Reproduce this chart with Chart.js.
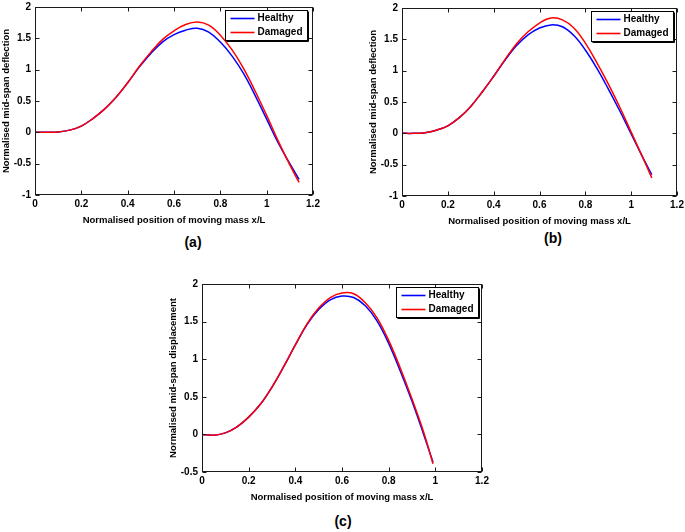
<!DOCTYPE html>
<html>
<head>
<meta charset="utf-8">
<script src="https://cdn.jsdelivr.net/npm/chart.js@4"></script>
<style>
  html, body { margin: 0; padding: 0; background: #fff; width: 685px; height: 532px; overflow: hidden; }
  canvas { position: absolute; }
  .tag { position: absolute; font: bold 14px "Liberation Sans", Arial, sans-serif; color: #000; transform: translate(-50%, -50%); }
</style>
</head>
<body>
<canvas id="chart-a"></canvas>
<canvas id="chart-b"></canvas>
<canvas id="chart-c"></canvas>
<div class="tag" style="left:193px; top:242px">(a)</div>
<div class="tag" style="left:553px; top:238px">(b)</div>
<div class="tag" style="left:343px; top:521px">(c)</div>
<script>
// values
const xA = [0, 0.05, 0.1, 0.15, 0.2, 0.25, 0.3, 0.35, 0.4, 0.45, 0.5, 0.55, 0.6, 0.65, 0.7, 0.75, 0.8, 0.85, 0.9, 0.95, 1.0, 1.05, 1.1, 1.14];
const healthyA = [0, 0, 0.005, 0.035, 0.10, 0.22, 0.37, 0.56, 0.79, 1.04, 1.26, 1.44, 1.56, 1.63, 1.66, 1.60, 1.44, 1.22, 0.94, 0.59, 0.21, -0.17, -0.50, -0.75];
const damagedA = [0, 0, 0.005, 0.035, 0.10, 0.22, 0.37, 0.56, 0.79, 1.05, 1.28, 1.48, 1.62, 1.72, 1.76, 1.71, 1.55, 1.32, 1.02, 0.66, 0.27, -0.14, -0.52, -0.80];

const xB = [0, 0.05, 0.1, 0.15, 0.2, 0.25, 0.3, 0.35, 0.4, 0.45, 0.5, 0.55, 0.6, 0.65, 0.7, 0.75, 0.8, 0.85, 0.9, 0.95, 1.0, 1.05, 1.09];
const healthyB = [0, 0, 0.01, 0.05, 0.12, 0.25, 0.43, 0.66, 0.91, 1.17, 1.40, 1.57, 1.68, 1.73, 1.70, 1.56, 1.33, 1.04, 0.71, 0.36, -0.01, -0.38, -0.66];
const damagedB = [0, 0, 0.01, 0.05, 0.12, 0.25, 0.43, 0.66, 0.91, 1.18, 1.43, 1.62, 1.76, 1.84, 1.81, 1.68, 1.44, 1.13, 0.79, 0.42, 0.02, -0.38, -0.71];

const xC = [0, 0.05, 0.1, 0.15, 0.2, 0.25, 0.3, 0.35, 0.4, 0.45, 0.5, 0.55, 0.6, 0.65, 0.7, 0.75, 0.8, 0.85, 0.9, 0.95, 0.99];
const healthyC = [0, -0.01, 0.02, 0.10, 0.23, 0.40, 0.63, 0.90, 1.19, 1.46, 1.66, 1.79, 1.84, 1.82, 1.71, 1.51, 1.21, 0.84, 0.44, 0.0, -0.37];
const damagedC = [0, -0.01, 0.02, 0.10, 0.23, 0.40, 0.63, 0.90, 1.19, 1.47, 1.68, 1.82, 1.88, 1.87, 1.75, 1.55, 1.25, 0.88, 0.47, 0.03, -0.39];

const xTicks = [0, 0.2, 0.4, 0.6, 0.8, 1, 1.2];
const yTicksAB = [-1, -0.5, 0, 0.5, 1, 1.5, 2];
const yTicksC = [-0.5, 0, 0.5, 1, 1.5, 2];

const seriesNames = ['Healthy', 'Damaged'];
const seriesColors = ['#0000ff', '#ff0000'];
const xTitle = 'Normalised position of moving mass x/L';

const FONT = '"Liberation Sans", Arial, sans-serif';
Chart.defaults.font.family = FONT;
Chart.defaults.color = '#000';

// matlab style box: frame, inward ticks, boxed legend
const matlabBox = {
    id: 'matlabBox',
    afterDraw(chart, args, opts) {
        const { ctx, chartArea: a, scales } = chart;
        const L = Math.round(a.left) + 0.5, R = Math.round(a.right) - 0.5;
        const T = Math.round(a.top) + 0.5, B = Math.round(a.bottom) - 0.5;
        ctx.save();
        ctx.strokeStyle = '#1a1a1a';
        ctx.lineWidth = 1;
        ctx.strokeRect(L, T, R - L, B - T);
        const tl = 4;
        ctx.beginPath();
        scales.x.ticks.forEach(t => {
            const px = Math.round(scales.x.getPixelForValue(t.value)) + 0.5;
            ctx.moveTo(px, B); ctx.lineTo(px, B - tl);
            ctx.moveTo(px, T); ctx.lineTo(px, T + tl);
        });
        scales.y.ticks.forEach(t => {
            const py = Math.round(scales.y.getPixelForValue(t.value)) + 0.5;
            ctx.moveTo(L, py); ctx.lineTo(L + tl, py);
            ctx.moveTo(R, py); ctx.lineTo(R - tl, py);
        });
        ctx.stroke();

        // legend
        ctx.font = 'bold 10px ' + FONT;
        const tw = Math.max(...chart.data.datasets.map(d => ctx.measureText(d.label).width));
        const w = 5 + 24 + 3 + tw + 5, h = 30;
        const lx = Math.round(a.right - opts.right - w) + 0.5;
        const ly = Math.round(a.top + opts.top) + 0.5;
        ctx.fillStyle = '#fff';
        ctx.fillRect(lx, ly, w, h);
        ctx.strokeStyle = '#000';
        ctx.strokeRect(lx, ly, w, h);
        ctx.beginPath();
        ctx.moveTo(lx + w + 1, ly + 1); ctx.lineTo(lx + w + 1, ly + h + 1); ctx.lineTo(lx + 1, ly + h + 1);
        ctx.stroke();
        ctx.textBaseline = 'middle';
        chart.data.datasets.forEach((d, i) => {
            const ry = ly + 8 + i * 14;
            ctx.strokeStyle = d.borderColor;
            ctx.lineWidth = 1.6;
            ctx.beginPath();
            ctx.moveTo(lx + 5, ry); ctx.lineTo(lx + 29, ry);
            ctx.stroke();
            ctx.fillStyle = '#000';
            ctx.fillText(d.label, lx + 32, ry);
        });
        ctx.restore();
    }
};

function makeChart(id, area, xs, healthy, damaged, yTicks, yTitle, legendPos) {
    const padTop = 8, padRight = 12, yW = 35, xH = 31;
    const canvas = document.getElementById(id);
    canvas.width = area.R - area.L + yW + padRight;
    canvas.height = area.B - area.T + padTop + xH;
    canvas.style.left = (area.L - yW) + 'px';
    canvas.style.top = (area.T - padTop) + 'px';

    const series = [healthy, damaged];
    new Chart(canvas, {
        type: 'line',
        data: {
            datasets: series.map((vals, i) => ({
                label: seriesNames[i],
                data: xs.map((x, k) => ({ x: x, y: vals[k] })),
                borderColor: seriesColors[i],
                borderWidth: 1.5,
                pointRadius: 0,
                tension: 0.4,
                order: series.length - i, // damaged drawn on top
                fill: false
            }))
        },
        options: {
            responsive: false,
            animation: false,
            devicePixelRatio: 1,
            layout: { padding: { top: padTop, right: padRight, left: 0, bottom: 0 } },
            plugins: {
                legend: { display: false },
                tooltip: { enabled: false },
                matlabBox: legendPos
            },
            scales: {
                x: {
                    type: 'linear',
                    min: xTicks[0],
                    max: xTicks[xTicks.length - 1],
                    afterBuildTicks: s => { s.ticks = xTicks.map(v => ({ value: v })); },
                    afterFit: s => { s.height = xH; },
                    grid: { display: false, drawTicks: false },
                    border: { display: false },
                    ticks: { padding: 3, maxRotation: 0, autoSkip: false, font: { size: 10, weight: 'bold' }, callback: v => String(v) },
                    title: { display: true, text: xTitle, padding: { top: 0, bottom: 0 }, font: { size: 9.5, weight: 'bold' } }
                },
                y: {
                    type: 'linear',
                    min: yTicks[0],
                    max: yTicks[yTicks.length - 1],
                    afterBuildTicks: s => { s.ticks = yTicks.map(v => ({ value: v })); },
                    afterFit: s => { s.width = yW; },
                    grid: { display: false, drawTicks: false },
                    border: { display: false },
                    ticks: { padding: 4, autoSkip: false, font: { size: 10, weight: 'bold' }, callback: v => String(v) },
                    title: { display: true, text: yTitle, padding: { top: 1, bottom: 0 }, font: { size: 9.5, weight: 'bold' } }
                }
            }
        },
        plugins: [matlabBox]
    });
}

makeChart('chart-a', { L: 35, T: 5, R: 313, B: 195 }, xA, healthyA, damagedA, yTicksAB,
    'Normalised mid-span deflection', { right: 5.5, top: 3 });
makeChart('chart-b', { L: 402, T: 6, R: 677, B: 196 }, xB, healthyB, damagedB, yTicksAB,
    'Normalised mid-span deflection', { right: 3.5, top: 2.5 });
makeChart('chart-c', { L: 202, T: 282, R: 482, B: 472 }, xC, healthyC, damagedC, yTicksC,
    'Normalised mid-span displacement', { right: 3.5, top: 3 });
</script>
</body>
</html>
